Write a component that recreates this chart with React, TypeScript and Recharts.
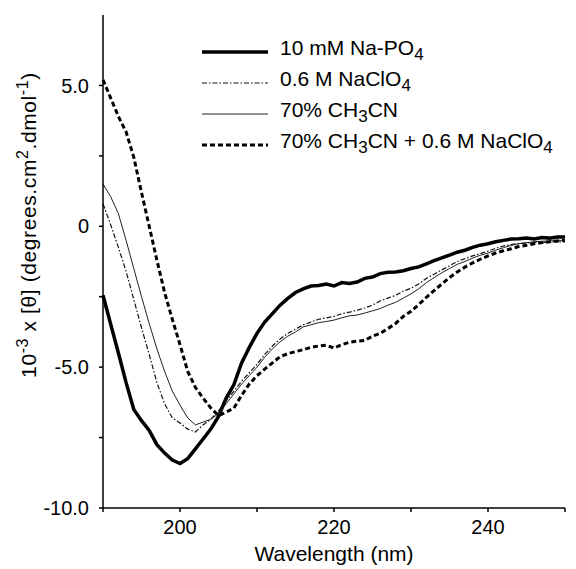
import React from "react";
import {
    LineChart,
    Line,
    XAxis,
    YAxis,
} from "recharts";

const FONT = '"Liberation Sans", Arial, sans-serif';

// wavelength in nm
const wavelength = [
    190, 191, 192, 193, 194, 195, 196, 197, 198, 199,
    200, 201, 202, 203, 204, 205, 206, 207, 208, 209,
    210, 211, 212, 213, 214, 215, 216, 217, 218, 219,
    220, 221, 222, 223, 224, 225, 226, 227, 228, 229,
    230, 231, 232, 233, 234, 235, 236, 237, 238, 239,
    240, 241, 242, 243, 244, 245, 246, 247, 248, 249,
    250,
];

// 10^-3 x [theta]
const naPO4 = [
    -2.45, -3.48, -4.5, -5.55, -6.5, -6.9, -7.25, -7.75, -8.05, -8.3,
    -8.42, -8.25, -7.9, -7.55, -7.2, -6.75, -6.1, -5.62, -4.85, -4.3,
    -3.8, -3.4, -3.1, -2.8, -2.56, -2.35, -2.22, -2.12, -2.1, -2.05,
    -2.12, -2.0, -2.03, -1.98, -1.85, -1.8, -1.68, -1.63, -1.62, -1.58,
    -1.5, -1.44, -1.33, -1.22, -1.12, -1.02, -0.92, -0.85, -0.75, -0.67,
    -0.62, -0.55, -0.5, -0.45, -0.44, -0.42, -0.45, -0.4, -0.42, -0.38,
    -0.38,
];

const naClO4 = [
    0.8, 0.05, -0.75, -1.6, -2.6, -3.6, -4.55, -5.55, -6.3, -6.8,
    -6.98, -7.2, -7.3, -7.05, -6.85, -6.55, -6.2, -5.85, -5.5, -5.2,
    -4.9, -4.55, -4.25, -4.0, -3.8, -3.65, -3.5, -3.4, -3.3, -3.25,
    -3.2, -3.1, -3.05, -2.98, -2.9, -2.8, -2.65, -2.55, -2.45, -2.3,
    -2.2, -2.05, -1.85, -1.7, -1.55, -1.4, -1.25, -1.15, -1.05, -0.97,
    -0.88, -0.78, -0.7, -0.65, -0.61, -0.6, -0.57, -0.58, -0.55, -0.55,
    -0.55,
];

const ch3cn = [
    1.5, 1.05, 0.45, -0.5, -1.5, -2.5, -3.45, -4.35, -5.15, -5.85,
    -6.35, -6.8, -7.05, -6.95, -6.85, -6.65, -6.3, -5.95, -5.6, -5.3,
    -5.0, -4.65, -4.35, -4.1, -3.9, -3.75, -3.57, -3.5, -3.42, -3.38,
    -3.33, -3.25, -3.18, -3.15, -3.08, -3.0, -2.92, -2.8, -2.7, -2.55,
    -2.4, -2.22, -2.0, -1.82, -1.65, -1.5, -1.35, -1.25, -1.13, -1.03,
    -0.95, -0.85, -0.76, -0.68, -0.62, -0.58, -0.55, -0.53, -0.52, -0.5,
    -0.5,
];

const ch3cnNaClO4 = [
    5.2, 4.55, 3.9, 3.35, 2.45, 1.2, 0.0, -1.2, -2.35, -3.3,
    -4.2, -5.15, -5.72, -6.1, -6.45, -6.72, -6.6, -6.45, -6.0, -5.6,
    -5.3, -5.07, -4.85, -4.63, -4.52, -4.45, -4.38, -4.3, -4.25, -4.22,
    -4.32, -4.2, -4.12, -4.08, -4.05, -3.9, -3.8, -3.63, -3.45, -3.2,
    -3.02, -2.78, -2.52, -2.28, -2.05, -1.82, -1.62, -1.45, -1.3, -1.17,
    -1.05, -0.95, -0.87, -0.8, -0.72, -0.67, -0.62, -0.58, -0.55, -0.52,
    -0.5,
];

const xTicks = [190, 200, 210, 220, 230, 240, 250];
const xLabels = [200, 220, 240];
const yTicks = [-10, -7.5, -5, -2.5, 0, 2.5, 5];
const yLabels: Record<string, string> = { "-10": "-10.0", "-5": "-5.0", "0": "0", "5": "5.0" };

const data = wavelength.map((w, i) => ({
    wavelength: w,
    naPO4: naPO4[i],
    naClO4: naClO4[i],
    ch3cn: ch3cn[i],
    ch3cnNaClO4: ch3cnNaClO4[i],
}));

// legend label parts: [before, subscript, after, subscript2]
const series = [
    { key: "naPO4", width: 3.5, dash: undefined, color: "#000", label: ["10 mM Na-PO", "4", "", ""] },
    { key: "naClO4", width: 1.2, dash: "5 2 1.5 2", color: "#111", label: ["0.6 M NaClO", "4", "", ""] },
    { key: "ch3cn", width: 1, dash: undefined, color: "#222", label: ["70% CH", "3", "CN", ""] },
    { key: "ch3cnNaClO4", width: 3, dash: "5 3", color: "#000", label: ["70% CH", "3", "CN + 0.6 M NaClO", "4"] },
];

const subStyle = { fontSize: 17 };

const LegendBox = () => (
    <div
        style={{
            position: "absolute",
            left: 202,
            top: 36,
            fontFamily: FONT,
            fontSize: 21,
            color: "#000",
        }}
    >
        {series.map((s) => (
            <div
                key={s.key}
                style={{ display: "flex", alignItems: "center", height: 31, whiteSpace: "nowrap" }}
            >
                <svg width={66} height={8} style={{ marginRight: 12 }}>
                    <line
                        x1={0}
                        y1={4}
                        x2={66}
                        y2={4}
                        stroke={s.color}
                        strokeWidth={s.width}
                        strokeDasharray={s.dash}
                    />
                </svg>
                <span style={{ lineHeight: "31px" }}>
                    {s.label[0]}
                    <sub style={subStyle}>{s.label[1]}</sub>
                    {s.label[2]}
                    {s.label[3] && <sub style={subStyle}>{s.label[3]}</sub>}
                </span>
            </div>
        ))}
    </div>
);

const XTitle = ({ viewBox }: any) => (
    <text
        x={viewBox.x + viewBox.width / 2}
        y={viewBox.y + 53}
        textAnchor="middle"
        fontFamily={FONT}
        fontSize={21}
        fill="#000"
    >
        Wavelength (nm)
    </text>
);

const YTitle = ({ viewBox }: any) => {
    const cx = viewBox.x - 7;
    const cy = 225;
    return (
        <text
            x={cx}
            y={cy}
            transform={`rotate(-90, ${cx}, ${cy})`}
            textAnchor="middle"
            fontFamily={FONT}
            fontSize={21}
            fill="#000"
            letterSpacing={0.6}
        >
            10
            <tspan dy={-8} fontSize={16}>-3</tspan>
            <tspan dy={8}> x [θ] (degrees.cm</tspan>
            <tspan dy={-8} fontSize={16}>2</tspan>
            <tspan dy={8}>.dmol</tspan>
            <tspan dy={-8} fontSize={16}>-1</tspan>
            <tspan dy={8}>)</tspan>
        </text>
    );
};

const tickStyle = { fontSize: 20, fontFamily: FONT, fill: "#000" };

export default function App() {
    return (
        <div style={{ position: "absolute", left: 0, top: 0, width: 576, height: 569, background: "#fff" }}>
            <LineChart
                width={576}
                height={569}
                data={data}
                margin={{ top: 15, right: 11, left: 43, bottom: 0 }}
            >
                <XAxis
                    dataKey="wavelength"
                    type="number"
                    domain={[190, 250]}
                    ticks={xTicks}
                    interval={0}
                    tickFormatter={(v: number) => (xLabels.includes(v) ? String(v) : "")}
                    tick={tickStyle}
                    tickSize={4}
                    tickMargin={8}
                    stroke="#000"
                    strokeWidth={1.5}
                    height={61}
                    label={XTitle}
                />
                <YAxis
                    type="number"
                    domain={[-10, 7.5]}
                    ticks={yTicks}
                    interval={0}
                    tickFormatter={(v: number) => yLabels[String(v)] ?? ""}
                    tick={tickStyle}
                    tickSize={4}
                    tickMargin={10}
                    stroke="#000"
                    strokeWidth={1.5}
                    width={60}
                    allowDataOverflow
                    label={YTitle}
                />
                {series.map((s) => (
                    <Line
                        key={s.key}
                        dataKey={s.key}
                        type="linear"
                        stroke={s.color}
                        strokeWidth={s.width}
                        strokeDasharray={s.dash}
                        dot={false}
                        isAnimationActive={false}
                    />
                ))}
            </LineChart>
            <LegendBox />
        </div>
    );
}
